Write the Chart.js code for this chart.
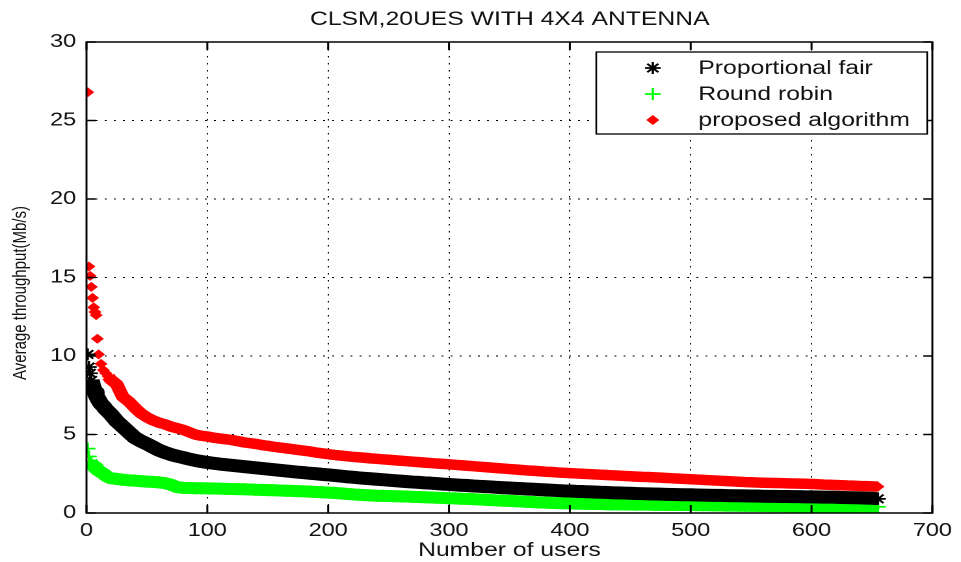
<!DOCTYPE html>
<html>
<head>
<meta charset="utf-8">
<title>CLSM,20UES WITH 4X4 ANTENNA</title>
<script src="https://cdn.jsdelivr.net/npm/chart.js@4.4.1/dist/chart.umd.min.js"></script>
<style>
  html, body { margin: 0; padding: 0; background: #fff; overflow: hidden; }
  /* the source figure is stretched sideways, so the whole canvas is too */
  #wrap { width: 739px; height: 562px; transform: scale(1.3004, 1); transform-origin: 0 0; }
</style>
</head>
<body>
<div id="wrap"><canvas id="chart" width="739" height="562"></canvas></div>
<script>
const chartTitle = 'CLSM,20UES WITH 4X4 ANTENNA';
const xLabel = 'Number of users';
const yLabel = 'Average throughput(Mb/s)';
const seriesNames = ['Proportional fair', 'Round robin', 'proposed algorithm'];

// users are sorted by throughput, highest first
const users = [
  1, 2, 3, 4, 5, 6, 7, 8, 9, 10,
  12, 14, 16, 18, 20, 25, 30, 35, 40, 45,
  50, 55, 60, 65, 70, 75, 80, 85, 90, 95,
  100, 105, 110, 115, 120, 125, 130, 135, 140, 145,
  150, 155, 160, 165, 170, 175, 180, 185, 190, 195,
  200, 205, 210, 215, 220, 225, 230, 235, 240, 245,
  250, 255, 260, 265, 270, 275, 280, 285, 290, 295,
  300, 305, 310, 315, 320, 325, 330, 335, 340, 345,
  350, 355, 360, 365, 370, 375, 380, 385, 390, 395,
  400, 405, 410, 415, 420, 425, 430, 435, 440, 445,
  450, 455, 460, 465, 470, 475, 480, 485, 490, 495,
  500, 505, 510, 515, 520, 525, 530, 535, 540, 545,
  550, 555, 560, 565, 570, 575, 580, 585, 590, 595,
  600, 605, 610, 615, 620, 625, 630, 635, 640, 645,
  650, 655
];

const propFair = [
  10.1, 9.3, 8.9, 8.45, 8.1, 7.9, 7.7, 7.5, 7.35, 7.2,
  6.95, 6.8, 6.6, 6.45, 6.3, 5.85, 5.5, 5.15, 4.8, 4.58,
  4.4, 4.2, 4.0, 3.85, 3.72, 3.62, 3.53, 3.43, 3.35, 3.28,
  3.22, 3.17, 3.12, 3.08, 3.04, 3.0, 2.96, 2.92, 2.88, 2.84,
  2.8, 2.76, 2.72, 2.68, 2.64, 2.6, 2.57, 2.53, 2.5, 2.46,
  2.43, 2.39, 2.35, 2.31, 2.28, 2.24, 2.21, 2.18, 2.15, 2.12,
  2.09, 2.06, 2.03, 2.0, 1.97, 1.95, 1.92, 1.9, 1.87, 1.84,
  1.82, 1.79, 1.77, 1.75, 1.72, 1.7, 1.68, 1.66, 1.63, 1.61,
  1.59, 1.57, 1.55, 1.53, 1.51, 1.49, 1.47, 1.45, 1.43, 1.41,
  1.4, 1.38, 1.37, 1.35, 1.34, 1.32, 1.31, 1.29, 1.28, 1.27,
  1.26, 1.24, 1.23, 1.22, 1.21, 1.2, 1.19, 1.18, 1.17, 1.16,
  1.16, 1.15, 1.14, 1.13, 1.12, 1.12, 1.11, 1.1, 1.1, 1.09,
  1.08, 1.08, 1.07, 1.06, 1.06, 1.05, 1.05, 1.04, 1.04, 1.03,
  1.03, 1.02, 1.01, 1.01, 1.0, 0.99, 0.98, 0.97, 0.96, 0.95,
  0.94, 0.9
];

const roundRobin = [
  4.1, 3.6, 3.25, 3.15, 3.05, 3.0, 2.9, 2.85, 2.75, 2.7,
  2.6, 2.5, 2.38, 2.28, 2.22, 2.17, 2.12, 2.08, 2.06, 2.03,
  2.0, 1.98, 1.95, 1.9, 1.8, 1.65, 1.6, 1.59, 1.58, 1.58,
  1.57, 1.56, 1.55, 1.54, 1.53, 1.52, 1.51, 1.5, 1.48, 1.47,
  1.46, 1.45, 1.43, 1.42, 1.41, 1.39, 1.38, 1.36, 1.34, 1.32,
  1.3, 1.28, 1.25, 1.22, 1.19, 1.16, 1.14, 1.12, 1.1, 1.09,
  1.08, 1.07, 1.06, 1.05, 1.03, 1.02, 1.0, 0.99, 0.97, 0.96,
  0.94, 0.93, 0.91, 0.9, 0.88, 0.86, 0.84, 0.82, 0.8, 0.78,
  0.77, 0.75, 0.73, 0.71, 0.69, 0.67, 0.66, 0.64, 0.63, 0.62,
  0.61, 0.6, 0.59, 0.58, 0.57, 0.57, 0.56, 0.55, 0.55, 0.54,
  0.54, 0.53, 0.53, 0.53, 0.52, 0.52, 0.52, 0.51, 0.51, 0.51,
  0.5, 0.5, 0.49, 0.49, 0.48, 0.48, 0.47, 0.47, 0.46, 0.46,
  0.45, 0.45, 0.44, 0.44, 0.43, 0.43, 0.42, 0.42, 0.41, 0.41,
  0.4, 0.4, 0.39, 0.39, 0.38, 0.38, 0.37, 0.37, 0.36, 0.36,
  0.35, 0.4
];

const proposed = [
  26.8, 15.7, 15.1, 14.4, 13.7, 13.1, 12.8, 12.6, 11.1, 10.1,
  9.5, 9.1, 8.9, 8.7, 8.5, 8.2, 7.4, 7.1, 6.7, 6.35,
  6.1, 5.9, 5.75, 5.65, 5.5, 5.4, 5.3, 5.15, 5.0, 4.92,
  4.87, 4.8, 4.75, 4.7, 4.65, 4.58, 4.5, 4.45, 4.4, 4.33,
  4.28, 4.22, 4.17, 4.12, 4.07, 4.02, 3.97, 3.92, 3.85, 3.8,
  3.75, 3.7, 3.66, 3.62, 3.58, 3.55, 3.52, 3.48, 3.45, 3.42,
  3.39, 3.36, 3.33, 3.3, 3.27, 3.24, 3.21, 3.18, 3.15, 3.13,
  3.1, 3.07, 3.04, 3.01, 2.98, 2.95, 2.92, 2.89, 2.86, 2.83,
  2.8, 2.77, 2.74, 2.71, 2.69, 2.66, 2.63, 2.61, 2.58, 2.56,
  2.54, 2.52, 2.5, 2.48, 2.46, 2.44, 2.42, 2.4, 2.38, 2.36,
  2.34, 2.32, 2.3, 2.29, 2.27, 2.25, 2.23, 2.21, 2.19, 2.17,
  2.15, 2.13, 2.11, 2.09, 2.07, 2.05, 2.03, 2.01, 1.99, 1.97,
  1.96, 1.94, 1.93, 1.92, 1.91, 1.9, 1.89, 1.88, 1.87, 1.86,
  1.85, 1.83, 1.81, 1.8, 1.78, 1.77, 1.75, 1.74, 1.72, 1.71,
  1.7, 1.68
];

const FONT = '"Liberation Sans", Arial, Helvetica, sans-serif';

const toPoints = ys => users.map((u, i) => ({ x: u, y: ys[i] }));
// the first few high users show as loose markers, not as a band
const hideHead = n => ({ borderColor: c => c.p0DataIndex < n ? 'rgba(0,0,0,0)' : undefined });

function marker(ctx, ds, x, y) {
  const opts = { pointStyle: ds.pointStyle, radius: ds.pointRadius, rotation: 0, borderWidth: ds.pointBorderWidth };
  ctx.fillStyle = ds.pointBackgroundColor;
  ctx.strokeStyle = ds.pointBorderColor;
  ctx.lineWidth = ds.pointBorderWidth;
  Chart.helpers.drawPoint(ctx, opts, x, y);
}

const matlabFrame = {
  id: 'matlabFrame',
  afterDatasetsDraw(chart) {
    const { ctx, chartArea: a, scales: { x, y } } = chart;
    ctx.save();
    ctx.strokeStyle = '#000';
    ctx.lineWidth = 1.5;
    ctx.strokeRect(a.left, a.top, a.right - a.left, a.bottom - a.top);

    // inward ticks on all four sides
    ctx.beginPath();
    x.ticks.forEach(t => {
      const px = x.getPixelForValue(t.value);
      ctx.moveTo(px, a.bottom); ctx.lineTo(px, a.bottom - 8);
      ctx.moveTo(px, a.top);    ctx.lineTo(px, a.top + 8);
    });
    y.ticks.forEach(t => {
      const py = y.getPixelForValue(t.value);
      ctx.moveTo(a.left, py);  ctx.lineTo(a.left + 7, py);
      ctx.moveTo(a.right, py); ctx.lineTo(a.right - 7, py);
    });
    ctx.stroke();

    // legend box, top right inside the axes
    const box = { l: 458.5, t: 52, r: 713, b: 134 };
    ctx.fillStyle = '#fff';
    ctx.fillRect(box.l, box.t, box.r - box.l, box.b - box.t);
    ctx.lineWidth = 1.3;
    ctx.strokeRect(box.l, box.t, box.r - box.l, box.b - box.t);
    const rows = [68, 94, 120];
    ctx.font = '19px ' + FONT;
    ctx.textBaseline = 'middle';
    ctx.textAlign = 'left';
    chart.data.datasets.forEach((ds, i) => {
      marker(ctx, ds, 502, rows[i]);
      ctx.fillStyle = '#111';
      ctx.fillText(ds.label, 537, rows[i] + 1);
    });

    // title and y axis label
    ctx.fillStyle = '#111';
    ctx.textAlign = 'center';
    ctx.font = '19px ' + FONT;
    ctx.fillText(chartTitle, 392, 20);
    ctx.translate(16, 293);
    ctx.rotate(-Math.PI / 2);
    ctx.font = '15px ' + FONT;
    ctx.fillText(yLabel, 0, 0);
    ctx.restore();
  }
};

const axisCommon = {
  grid:   { color: '#000', lineWidth: 1, drawTicks: false },
  border: { display: false, dash: [1.5, 5.5] },
};

new Chart(document.getElementById('chart'), {
  type: 'scatter',
  data: {
    datasets: [
      {
        label:                seriesNames[0],
        data:                 toPoints(propFair),
        showLine:             true,
        borderColor:          '#000',
        backgroundColor:      '#000',
        borderWidth:          13,
        borderJoinStyle:      'round',
        pointStyle:           'star',
        pointRadius:          6,
        pointBorderWidth:     1.8,
        pointBorderColor:     '#000',
        pointBackgroundColor: '#000',
        segment:              hideHead(3),
      },
      {
        label:                seriesNames[1],
        data:                 toPoints(roundRobin),
        showLine:             true,
        borderColor:          '#00ff00',
        backgroundColor:      '#00ff00',
        borderWidth:          12,
        borderJoinStyle:      'round',
        pointStyle:           'cross',
        pointRadius:          6,
        pointBorderWidth:     1.8,
        pointBorderColor:     '#00ff00',
        pointBackgroundColor: '#00ff00',
        segment:              hideHead(2),
      },
      {
        label:                seriesNames[2],
        data:                 toPoints(proposed),
        showLine:             true,
        borderColor:          '#ff0000',
        backgroundColor:      '#ff0000',
        borderWidth:          10.5,
        borderJoinStyle:      'round',
        pointStyle:           'rectRot',
        pointRadius:          4.3,
        pointBorderWidth:     1,
        pointBorderColor:     '#ff0000',
        pointBackgroundColor: '#ff0000',
        segment:              hideHead(13),
      },
    ],
  },
  options: {
    responsive:       false,
    animation:        false,
    devicePixelRatio: 2,
    layout: { padding: { left: 0, right: 17, top: 42, bottom: 0 } },
    plugins: {
      legend:  { display: false },
      title:   { display: false },
      tooltip: { enabled: false },
    },
    scales: {
      x: {
        ...axisCommon,
        type: 'linear',
        min: 0,
        max: 700,
        ticks: { stepSize: 100, color: '#111', padding: 7, font: { family: FONT, size: 18 } },
        title: { display: true, text: xLabel, color: '#111', padding: { top: 0, bottom: 0 }, font: { family: FONT, size: 19 } },
        afterFit: s => { s.height = 49; },
      },
      y: {
        ...axisCommon,
        min: 0,
        max: 30,
        ticks: { stepSize: 5, color: '#111', padding: 8, font: { family: FONT, size: 18 } },
        afterFit: s => { s.width = 66.5; },
      },
    },
  },
  plugins: [matlabFrame],
});
</script>
</body>
</html>
